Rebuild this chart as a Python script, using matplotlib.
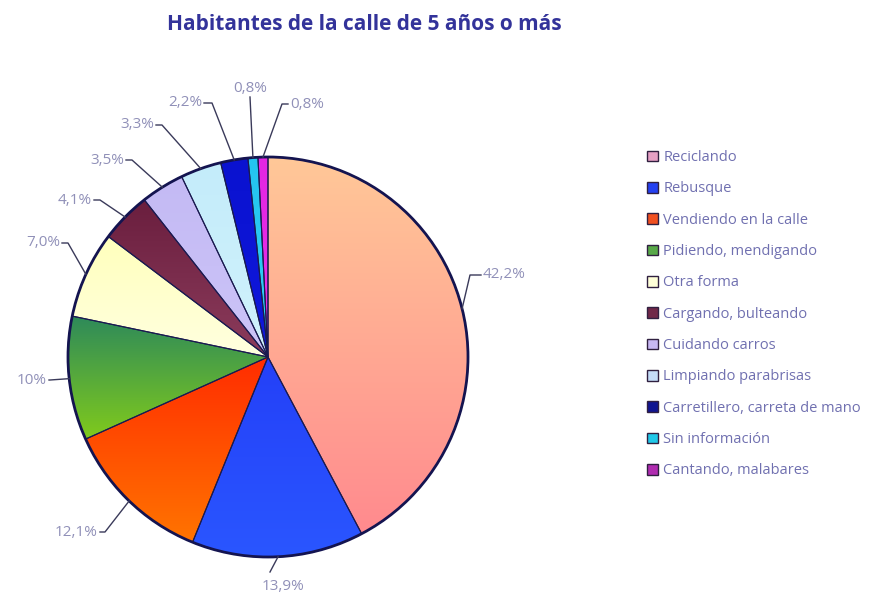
import numpy as np
import matplotlib
matplotlib.use("Agg")
import matplotlib.pyplot as plt
from matplotlib.colors import to_rgb
from matplotlib.patches import Circle, Patch

# Datos (porcentajes)
categorias = ["Reciclando", "Rebusque", "Vendiendo en la calle",
              "Pidiendo, mendigando", "Otra forma", "Cargando, bulteando",
              "Cuidando carros", "Limpiando parabrisas",
              "Carretillero, carreta de mano", "Sin información",
              "Cantando, malabares"]
valores = [42.2, 13.9, 12.1, 10.0, 7.0, 4.1, 3.5, 3.3, 2.2, 0.8, 0.8]
etiquetas = ["42,2%", "13,9%", "12,1%", "10%", "7,0%", "4,1%",
             "3,5%", "3,3%", "2,2%", "0,8%", "0,8%"]

# colores degradados (arriba, abajo) y color de leyenda
col_arriba = ["#ffc898", "#2440f8", "#ff2c00", "#2e8a5a", "#ffffbc", "#6a1e3e",
              "#c4baf4", "#c4ecfa", "#0a12d0", "#24c4f0", "#e226e2"]
col_abajo = ["#ff8a8e", "#2a56ff", "#ff7400", "#80ca1c", "#ffffe0", "#8c3c5c",
             "#ccc4f8", "#d0f2fc", "#1018dc", "#30d0f4", "#ea30ea"]
col_leyenda = ["#e6a0c4", "#2440f0", "#f05020", "#58a848", "#ffffd8", "#702848",
               "#c8b8f4", "#c4dcf8", "#101490", "#20c8e8", "#b02cb0"]

# posicion del codo y del texto de cada etiqueta (unidades del radio)
codo = [(1.01, 0.41), (0.01, -1.075), (-0.815, -0.875), (-1.09, -0.115),
        (-1.0, 0.57), (-0.84, 0.785), (-0.68, 0.985), (-0.53, 1.16),
        (-0.28, 1.27), (-0.09, 1.30), (0.07, 1.265)]
texto_pos = [(1.075, 0.41, "left"), (0.075, -1.15, "center"), (-0.85, -0.875, "right"),
             (-1.105, -0.115, "right"), (-1.04, 0.57, "right"), (-0.88, 0.785, "right"),
             (-0.72, 0.985, "right"), (-0.57, 1.16, "right"), (-0.33, 1.27, "right"),
             (-0.09, 1.345, "center"), (0.11, 1.265, "left")]

fig = plt.figure(figsize=(8.69, 5.96), dpi=100)
ax = fig.add_axes([0, 0, 536 / 869, 1])

wedges, _ = ax.pie(valores, startangle=90, counterclock=False, radius=1,
                   colors=col_leyenda,
                   wedgeprops=dict(edgecolor="#1a1a50", linewidth=0.8))

# relleno degradado recortado a cada sector
for w, c1, c2 in zip(wedges, col_arriba, col_abajo):
    ext = w.get_path().get_extents()
    t = np.linspace(0, 1, 200)[:, None]
    grad = (1 - t) * np.array(to_rgb(c1)) + t * np.array(to_rgb(c2))
    im = ax.imshow(grad.reshape(200, 1, 3), extent=[ext.x0, ext.x1, ext.y0, ext.y1],
                   origin="upper", aspect="auto", zorder=2, interpolation="bilinear")
    im.set_clip_path(w)
    w.set_facecolor("none")
    w.set_zorder(3)

ax.add_patch(Circle((0, 0), 1, fill=False, edgecolor="#141450", linewidth=2, zorder=4))

# lineas guia y etiquetas
acum = 0
total = sum(valores)
for v, lab, (cx, cy), (tx, ty, ha) in zip(valores, etiquetas, codo, texto_pos):
    ang = np.deg2rad(90 - (acum + v / 2) / total * 360)
    acum += v
    ex, ey = np.cos(ang), np.sin(ang)
    xs = [ex, cx]
    ys = [ey, cy]
    if ha == "right":
        xs.append(tx + 0.01)
        ys.append(ty)
    elif ha == "left":
        xs.append(tx - 0.01)
        ys.append(ty)
    ax.plot(xs, ys, color="#3a3a5a", linewidth=1, zorder=5)
    ax.text(tx, ty, lab, ha=ha, va="center",
            fontsize=11, color="#9090b8", family="Open Sans")

ax.set_xlim(-1.34, 1.34)
ax.set_ylim(-239 / 200, 357 / 200)
ax.set_aspect("auto")
ax.axis("off")

fig.text(364 / 869, 1 - 25 / 596, "Habitantes de la calle de 5 años o más",
         ha="center", va="center", fontsize=15, fontweight="bold",
         color="#33339a", family="Open Sans")

handles = [Patch(facecolor=c, edgecolor="#302040", linewidth=1) for c in col_leyenda]
fig.legend(handles, categorias, loc="upper left", bbox_to_anchor=(634 / 869, 1 - 137 / 596),
           frameon=False, handlelength=0.75, handleheight=0.75,
           handletextpad=0.35, labelspacing=1.12, labelcolor="#7070b0",
           prop={"family": "Open Sans", "size": 10.5})

plt.savefig("out.png", dpi=100)
